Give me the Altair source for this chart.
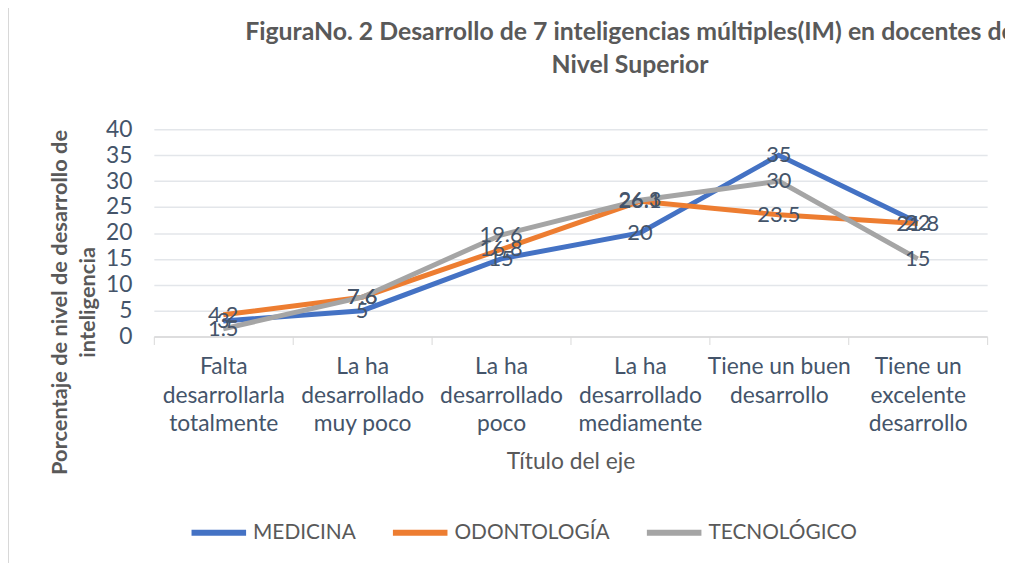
import altair as alt
import pandas as pd

categories = [
    "Falta|desarrollarla|totalmente",
    "La ha|desarrollado|muy poco",
    "La ha|desarrollado|poco",
    "La ha|desarrollado|mediamente",
    "Tiene un buen|desarrollo",
    "Tiene un|excelente|desarrollo",
]
series_names = ["MEDICINA", "ODONTOLOGÍA", "TECNOLÓGICO"]
medicina = [3, 5, 15, 20, 35, 22]
odontologia = [4.2, 7.6, 16.8, 26.1, 23.5, 21.8]
tecnologico = [1.5, 7.6, 19.6, 26.3, 30, 15]
y_ticks = [0, 5, 10, 15, 20, 25, 30, 35, 40]
colors = ["#4472C4", "#ED7D31", "#A5A5A5"]

rows = []
for name, vals in zip(series_names, [medicina, odontologia, tecnologico]):
    for i, (c, v) in enumerate(zip(categories, vals)):
        rows.append({"cat": c, "serie": name, "valor": v, "order": i})
df = pd.DataFrame(rows)

FONT = "Lato"
TXT = "#595959"
LBL = "#44546A"
FS = 23

x_enc = alt.X(
    "cat:N",
    sort=categories,
    bandPosition=0.5,
    scale=alt.Scale(type="band", paddingInner=0, paddingOuter=0),
    axis=alt.Axis(
        title="Título del eje",
        labelExpr="split(datum.label, '|')",
        labelAngle=0,
        labelFontSize=FS,
        labelColor=LBL,
        labelFont=FONT,
        labelLineHeight=29,
        labelPadding=11,
        tickBand="extent",
        tickSize=8,
        tickColor="#D9D9D9",
        domainColor="#D9D9D9",
        domainWidth=1.5,
        grid=False,
        titleFontSize=FS,
        titleFont=FONT,
        titleColor=TXT,
        titleFontWeight="normal",
        titleY=126,
        titleBaseline="middle",
    ),
)
y_enc = alt.Y(
    "valor:Q",
    scale=alt.Scale(domain=[0, 40], nice=False),
    axis=alt.Axis(
        values=y_ticks,
        labelOverlap=False,
        title=["Porcentaje de nivel de desarrollo de", "inteligencia"],
        titleFontSize=22,
        titleFont=FONT,
        titleFontWeight="bold",
        titleColor=TXT,
        titleAngle=-90,
        titleX=-83,
        titleY=174,
        titleAlign="center",
        titleBaseline="bottom",
        titleLineHeight=28,
        labelFontSize=FS,
        labelFont=FONT,
        labelColor=LBL,
        labelPadding=22,
        domain=False,
        ticks=False,
        gridColor="#E3E6EA",
        gridWidth=1.5,
    ),
)

color_enc = alt.Color(
    "serie:N",
    sort=series_names,
    scale=alt.Scale(domain=series_names, range=colors),
    legend=alt.Legend(
        title=None,
        orient="none",
        legendX=35,
        legendY=376,
        direction="horizontal",
        columns=3,
        symbolType="stroke",
        symbolSize=3025,
        symbolStrokeWidth=6,
        labelFontSize=21,
        labelFont=FONT,
        labelColor=TXT,
        labelOffset=4,
        columnPadding=25,
    ),
)

lines = alt.Chart(df).mark_line(strokeWidth=5, strokeCap="butt").encode(
    x=x_enc, y=y_enc, color=color_enc, order="order:Q"
)
labels = alt.Chart(df).mark_text(
    fontSize=22, font=FONT, color=LBL, align="center", baseline="middle"
).encode(
    x=x_enc,
    y=y_enc,
    text="valor:Q",
)
frame = alt.Chart(df).mark_rule(color="#D9D9D9", strokeWidth=1).encode(
    x=alt.value(-146.5), y=alt.value(-128), y2=alt.value(437)
)

chart = alt.layer(lines, labels, frame).properties(
    width=840,
    height=209,
    padding={"left": 147, "top": 120, "right": 18, "bottom": 228},
    autosize=alt.AutoSizeParams(type="none"),
    title=alt.TitleParams(
        text=[
            "FiguraNo. 2 Desarrollo de 7 inteligencias múltiples(IM) en docentes de",
            "Nivel Superior",
        ],
        fontSize=25,
        font=FONT,
        fontWeight="bold",
        color=TXT,
        anchor="middle",
        frame="group",
        dx=60,
        dy=132,
        offset=55,
        lineHeight=33,
    ),
).configure_view(stroke=None)

chart.save("out.html", embed_options={"renderer": "svg", "actions": False})
